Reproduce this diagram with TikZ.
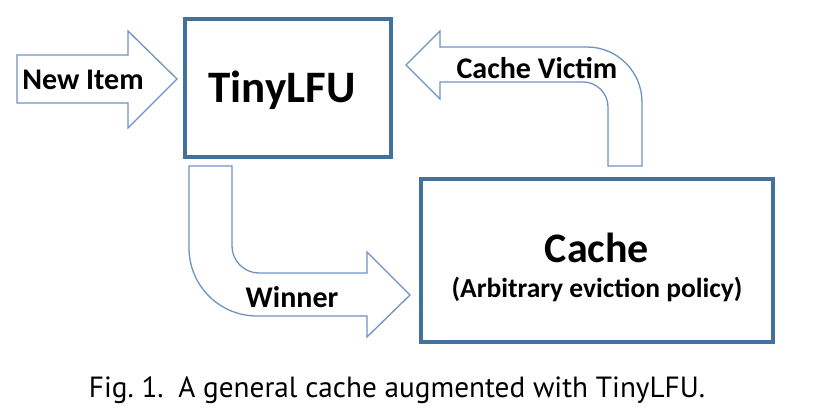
\documentclass[tikz,border=0pt]{standalone}
\usepackage{fontspec}
\setmainfont{Carlito}
\newfontfamily\capfont{PT Sans}
\usepackage{tikz}
\usetikzlibrary{
  calc,%
  positioning
}
\definecolor{boxblue}{HTML}{41719C}
\definecolor{arrowblue}{HTML}{6E93C2}
\tikzset{>=latex}
\tikzset{x=1pt, y=-1pt}
\tikzset{unit/.style={draw=boxblue, line width=3.5pt, fill=white, inner sep=0pt},
  blockarrow/.style={draw=arrowblue, line width=1.3pt, fill=white, line join=miter},
  label/.style={font=\fontsize{30}{32}\selectfont\bfseries, inner sep=0pt},
  title/.style={font=\fontsize{44}{48}\selectfont\bfseries, inner sep=0pt}}

\begin{document}
\begin{tikzpicture}
  \useasboundingbox (0,0) rectangle (814,420);
  % the two units
  \node[unit, minimum width=206pt, minimum height=138pt] (tiny) at (288,88) {};
  \node[title, font=\fontsize{45}{48}\selectfont\bfseries] (tinytext) at (282,90) {TinyLFU};
  \node[unit, minimum width=352pt, minimum height=163pt] (cache) at (597,260.5) {};
  \node[title, font=\fontsize{42}{46}\selectfont\bfseries] (cachetext) at (597,248) {Cache};
  \node[label, font=\fontsize{27.5}{30}\selectfont\bfseries] (policy) at (597,289) {(Arbitrary eviction policy)};

  % new item
  \draw[blockarrow] (17,55) -- (128,55) -- (128,31) -- (177,79) -- (128,128)
    -- (128,103) -- (17,103) -- cycle;
  \node[label] (newitem) at (83,80) {New Item};

  % cache victim, going back up
  \draw[blockarrow] (608,166) -- (608,107) arc[start angle=0, end angle=-90, radius=25]
    -- (440,82) -- (440,99) -- (406,65) -- (440,31) -- (440,47) -- (587,47)
    arc[start angle=-90, end angle=0, radius=55] -- (642,166) -- cycle;
  \node[label] (victim) at (537,68) {Cache Victim};

  % winner, going down
  \draw[blockarrow] (189,166) -- (232,166) -- (232,246)
    arc[start angle=180, end angle=90, radius=27] -- (367,273) -- (367,252)
    -- (410,295) -- (367,337) -- (367,316) -- (257,316)
    arc[start angle=90, end angle=180, radius=68] -- cycle;
  \node[label] (winner) at (292,297) {Winner};

  \node[font=\capfont\fontsize{29.2}{32}\selectfont, anchor=base] (caption) at (397,397)
    {Fig.~1.\enspace A general cache augmented with TinyLFU.};
\end{tikzpicture}
\end{document}
